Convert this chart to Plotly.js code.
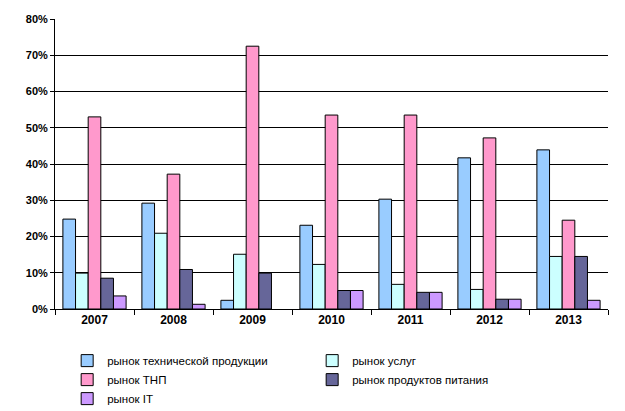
<!DOCTYPE html>
<html>
<head>
<meta charset="utf-8">
<script src="https://cdn.plot.ly/plotly-3.0.1.min.js"></script>
<style>body{margin:0;background:#fff;}</style>
</head>
<body>
<div id="chart" style="width:625px;height:411px;"></div>
<script>
// categories and series values (%)
var years = ['2007', '2008', '2009', '2010', '2011', '2012', '2013'];
var seriesNames = ['рынок технической продукции', 'рынок услуг', 'рынок ТНП', 'рынок продуктов питания', 'рынок IT'];
var techProd = [24.8, 29.2, 2.4, 23.1, 30.3, 41.7, 43.9];
var services = [9.9, 20.9, 15.1, 12.3, 6.8, 5.4, 14.5];
var tnp = [53.0, 37.2, 72.5, 53.5, 53.5, 47.2, 24.5];
var food = [8.5, 10.9, 9.9, 5.1, 4.6, 2.7, 14.5];
var it = [3.6, 1.3, 0, 5.1, 4.6, 2.7, 2.4];
var yTicks = [0, 10, 20, 30, 40, 50, 60, 70, 80];
var gridTicks = [10, 20, 30, 40, 50, 60, 70];

var colors = ['#99CCFF', '#CCFFFF', '#FF99CC', '#666699', '#CC99FF'];
var values = [techProd, services, tnp, food, it];

var traces = [];
for (var i = 0; i < values.length; i++) {
  traces.push({
    x: years, y: values[i], type: 'bar', name: seriesNames[i],
    marker: {color: colors[i], line: {color: '#000',
      width: values[i].map(function(v){ return v > 0 ? 1 : 0; })}},
    hoverinfo: 'y'
  });
}
// invisible trace to hold the gridline axis
traces.push({x: years, y: [0, 0, 0, 0, 0, 0, 0], type: 'scatter', mode: 'none',
  yaxis: 'y2', showlegend: false, hoverinfo: 'skip'});

var layout = {
  width: 625, height: 411,
  margin: {l: 55, r: 17, t: 19, b: 102, autoexpand: false},
  paper_bgcolor: '#fff', plot_bgcolor: 'rgba(0,0,0,0)',
  font: {family: 'Liberation Sans, Arial, sans-serif', color: '#000', size: 11},
  barmode: 'group', bargap: 0.2, bargroupgap: 0,
  xaxis: {
    type: 'category', tickson: 'boundaries', ticks: 'outside', ticklen: 5,
    tickcolor: '#000', showline: true, linecolor: '#000', linewidth: 1,
    tickfont: {size: 12, family: 'Liberation Sans, Arial, sans-serif', weight: 'bold'},
    showgrid: false, automargin: false
  },
  yaxis: {
    range: [0, 80], tickvals: yTicks, ticktext: yTicks.map(function(v){return v + '%';}),
    ticks: 'outside', ticklen: 4, tickcolor: '#000', showline: true, linecolor: '#000',
    linewidth: 1, showgrid: false, zeroline: false, automargin: false,
    tickfont: {size: 11, family: 'Liberation Sans, Arial, sans-serif', weight: 'bold'}
  },
  yaxis2: {
    overlaying: 'y', range: [0, 80], tickvals: gridTicks, showticklabels: false,
    showgrid: true, gridcolor: '#000', gridwidth: 1, zeroline: false, ticks: '',
    layer: 'below traces'
  },
  showlegend: true,
  legend: {
    orientation: 'h', x: 0.022, xanchor: 'left', y: -0.128, yanchor: 'top',
    entrywidth: 200, entrywidthmode: 'pixels', traceorder: 'normal',
    font: {size: 11.5, family: 'Liberation Sans, Arial, sans-serif'},
    itemwidth: 30, tracegroupgap: 0
  }
};

Plotly.newPlot('chart', traces, layout, {displayModeBar: false, staticPlot: true});
</script>
</body>
</html>
